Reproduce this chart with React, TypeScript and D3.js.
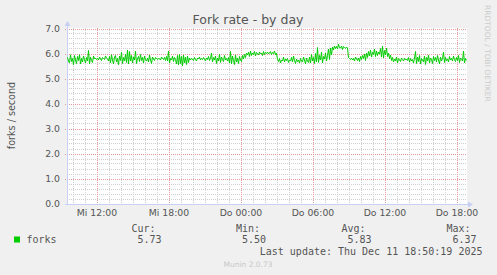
import React from "react";
import * as d3 from "d3";

// ---- data ----
const seriesName = "forks";
const forkRate: number[] = [
  5.85,5.70,5.62,5.95,5.68,5.80,5.55,5.92,5.74,5.60,5.88,5.72,5.95,5.58,5.80,5.66,5.90,5.75,5.62,5.84,
  5.70,6.12,5.58,5.85,5.72,5.64,5.90,5.78,5.82,5.76,5.80,5.74,5.86,5.78,5.72,5.84,5.80,5.76,5.90,5.82,
  5.78,5.70,5.88,5.62,5.95,5.74,5.58,5.86,5.92,5.66,5.80,5.55,5.90,5.72,6.05,5.60,5.84,5.70,5.96,5.64,
  6.14,5.58,6.08,5.70,5.92,5.62,5.86,5.74,6.10,5.60,5.80,5.88,5.68,5.96,5.72,5.84,5.62,5.90,5.76,5.70,
  5.82,5.66,5.94,5.74,5.60,5.86,5.78,5.72,5.84,5.80,5.76,5.82,5.78,5.74,5.86,5.80,5.76,5.84,5.72,5.88,
  5.70,6.10,5.62,5.80,5.74,5.90,5.68,5.84,5.76,5.58,5.92,5.55,5.96,5.60,5.88,5.50,5.94,5.62,5.85,5.56,
  5.90,5.64,5.82,5.74,5.80,5.78,5.72,5.84,5.76,5.70,5.82,5.78,5.86,5.74,5.80,5.76,5.84,5.78,5.70,5.82,
  5.76,5.88,5.72,5.80,6.02,5.66,5.84,5.74,5.90,5.60,5.82,5.70,5.96,5.64,5.86,5.76,5.68,5.92,5.74,5.80,
  5.70,5.84,5.62,6.08,5.58,5.90,5.72,5.56,5.94,5.66,5.82,5.60,5.88,5.74,5.68,5.92,5.78,5.96,5.84,6.02,
  5.94,6.05,5.88,6.10,5.92,6.02,5.96,6.08,5.90,6.04,6.00,5.94,6.06,5.98,6.02,5.92,6.08,5.96,6.04,6.00,
  6.06,5.98,6.02,6.08,5.96,6.04,6.00,6.10,5.94,6.02,5.76,5.68,5.80,5.62,5.74,5.70,5.86,5.66,5.78,5.72,
  5.80,5.64,5.74,5.70,5.84,5.66,5.90,5.72,5.60,5.78,5.68,5.74,5.62,5.80,5.70,5.66,5.86,5.74,5.58,5.82,
  5.70,5.64,5.86,5.62,5.96,5.70,5.84,5.60,6.00,5.66,6.24,5.64,5.92,5.74,6.06,5.62,5.88,5.78,6.02,5.70,
  5.92,6.18,5.76,6.22,5.94,6.26,6.14,6.30,6.20,6.28,6.18,6.37,6.24,6.22,6.30,6.16,6.28,6.24,6.20,6.26,
  6.22,5.84,5.80,5.76,5.82,5.74,5.80,5.70,5.86,5.78,5.72,5.82,5.68,5.88,5.76,5.92,5.80,5.98,5.72,6.02,
  5.84,6.08,5.90,6.14,5.86,6.04,5.96,6.18,5.88,6.10,5.92,6.06,5.98,6.20,5.86,6.30,5.82,6.12,5.94,6.22,
  5.88,6.02,5.80,5.94,5.72,5.84,5.66,5.78,5.70,5.86,5.62,5.80,5.74,5.68,5.82,5.76,5.70,5.80,5.74,5.78,
  5.72,5.84,5.66,5.80,5.70,5.76,5.62,5.82,6.08,5.60,5.86,5.68,5.92,5.58,5.80,5.74,5.66,5.90,5.56,5.84,
  5.70,5.94,5.62,5.82,5.76,5.60,5.88,5.72,5.84,5.66,5.92,5.74,5.58,5.86,5.70,5.80,6.06,5.64,5.84,5.72,
  5.78,5.66,5.88,5.74,5.80,5.70,5.90,5.76,5.68,5.84,5.72,5.92,5.64,5.82,5.76,5.70,6.10,5.62,5.80,5.73,
];
const yTicks = [0, 1, 2, 3, 4, 5, 6, 7];
const dayNames = ["So", "Mo", "Di", "Mi", "Do", "Fr", "Sa"];
const legendHeaders = ["Cur:", "Min:", "Avg:", "Max:"];
const legendValues = ["5.73", "5.50", "5.83", "6.37"];
const lastUpdate = "Last update: Thu Dec 11 18:50:19 2025";
const title = "Fork rate - by day";
const yLabel = "forks / second";
const sideText = "RRDTOOL / TOBI OETIKER";
const footer = "Munin 2.0.73";

const endTime = Date.UTC(2025, 11, 11, 18, 50, 19);
const stepMs = 300000;

export default function App() {
  const W = 497, H = 275;
  const left = 67, right = 467, top = 28, bottom = 203;
  const startTime = endTime - forkRate.length * stepMs;
  const x = d3.scaleUtc().domain([new Date(startTime), new Date(endTime)]).range([left, right]);
  const y = d3.scaleLinear().domain([0, 7]).range([bottom + 0.5, top + 0.5]);

  const pts = forkRate.map((v, i) => [new Date(startTime + (i + 0.5) * stepMs), v] as [Date, number]);
  const line = d3.line<[Date, number]>().x((d) => x(d[0])).y((d) => y(d[1]));

  const hours = x.ticks(d3.utcHour.every(1)!);
  const majorHours = hours.filter((d) => d.getUTCHours() % 6 === 0);
  const minorHours = hours.filter((d) => d.getUTCHours() % 6 !== 0);
  const minorY = d3.range(0, 7.001, 0.2).filter((v) => Math.abs(v - Math.round(v)) > 1e-6);

  const px = (v: number) => Math.round(v) + 0.5;
  const fmtY = d3.format(".1f");
  const fmtX = (d: Date) => `${dayNames[d.getUTCDay()]} ${d3.utcFormat("%H:%M")(d)}`;

  const sans = "'DejaVu Sans', sans-serif";
  const mono = "'DejaVu Sans Mono', monospace";
  const textCol = "#555";
  const minorCol = "#cfcfcf";
  const majorCol = "#e39a9a";
  const axisCol = "#c8cff5";

  const legendX = [131.5, 236, 341.5, 446.5];

  return (
    <svg width={W} height={H} style={{ position: "fixed", left: 0, top: 0, display: "block" }}>
      <rect x={0} y={0} width={W} height={H} fill="#f0f0f0" />
      <rect x={left} y={top} width={right - left} height={bottom - top + 1} fill="#ffffff" />

      {/* minor grid */}
      {minorY.map((v, i) => (
        <line key={"my" + i} x1={left} x2={right} y1={px(y(v))} y2={px(y(v))} stroke={minorCol} strokeDasharray="1,1" />
      ))}
      {minorHours.map((d, i) => (
        <line key={"mx" + i} x1={px(x(d))} x2={px(x(d))} y1={top} y2={bottom + 2} stroke={minorCol} strokeDasharray="1,1" />
      ))}
      {/* major grid */}
      {yTicks.filter((v) => v > 0).map((v) => (
        <line key={"Mg" + v} x1={left - 2} x2={right} y1={px(y(v))} y2={px(y(v))} stroke={majorCol} strokeDasharray="1,1" />
      ))}
      {majorHours.map((d, i) => (
        <line key={"Mx" + i} x1={px(x(d))} x2={px(x(d))} y1={top} y2={bottom + 3} stroke={majorCol} strokeDasharray="1,1" />
      ))}

      {/* axes */}
      <line x1={left - 2} x2={right + 2} y1={px(y(0))} y2={px(y(0))} stroke={axisCol} />
      <line x1={px(left)} x2={px(left)} y1={bottom + 2} y2={top - 4} stroke={axisCol} />
      <path d={`M${left - 2.5},${top - 2} L${left + 0.5},${top - 7} L${left + 3.5},${top - 2} Z`} fill={axisCol} />
      <path d={`M${right + 1},${px(y(0)) - 3} L${right + 6},${px(y(0))} L${right + 1},${px(y(0)) + 3} Z`} fill={axisCol} />

      {/* data */}
      <path d={line(pts) || ""} fill="none" stroke="#00cc00" strokeWidth={1} />

      {/* y tick labels */}
      {yTicks.map((v) => (
        <text key={"yl" + v} x={60} y={y(v) + 3.4} textAnchor="end" fontFamily={sans} fontSize={9.3} fill={textCol}>
          {fmtY(v)}
        </text>
      ))}
      {/* x tick labels */}
      {majorHours.map((d, i) => (
        <text key={"xl" + i} x={x(d)} y={216} textAnchor="middle" fontFamily={sans} fontSize={9.3} fill={textCol}>
          {fmtX(d)}
        </text>
      ))}

      <text x={248} y={24} textAnchor="middle" fontFamily={sans} fontSize={12.5} fill={textCol}>{title}</text>
      <text transform={`translate(14.5,${(top + bottom) / 2}) rotate(-90)`} textAnchor="middle" fontFamily={sans} fontSize={9.6} fill={textCol}>{yLabel}</text>
      <text transform={`translate(485,5) rotate(90)`} textAnchor="start" fontFamily={sans} fontSize={7.5} fill="#cccccc">{sideText}</text>

      {/* legend */}
      <rect x={14} y={236.5} width={6} height={6} fill="#00cc00" />
      <text x={26.5} y={243.3} fontFamily={mono} fontSize={10} fill={textCol}>{seriesName}</text>
      {legendHeaders.map((h, i) => (
        <text key={"lh" + i} x={legendX[i]} y={231.5} fontFamily={mono} fontSize={10} fill={textCol}>{h}</text>
      ))}
      {legendValues.map((v, i) => (
        <text key={"lv" + i} x={legendX[i] + 30} y={243.3} textAnchor="end" fontFamily={mono} fontSize={10} fill={textCol}>{v}</text>
      ))}
      <text x={482.5} y={255} textAnchor="end" fontFamily={mono} fontSize={10} fill={textCol}>{lastUpdate}</text>
      <text x={248} y={266.5} textAnchor="middle" fontFamily={sans} fontSize={7.5} fill="#c8c8c8">{footer}</text>
    </svg>
  );
}
